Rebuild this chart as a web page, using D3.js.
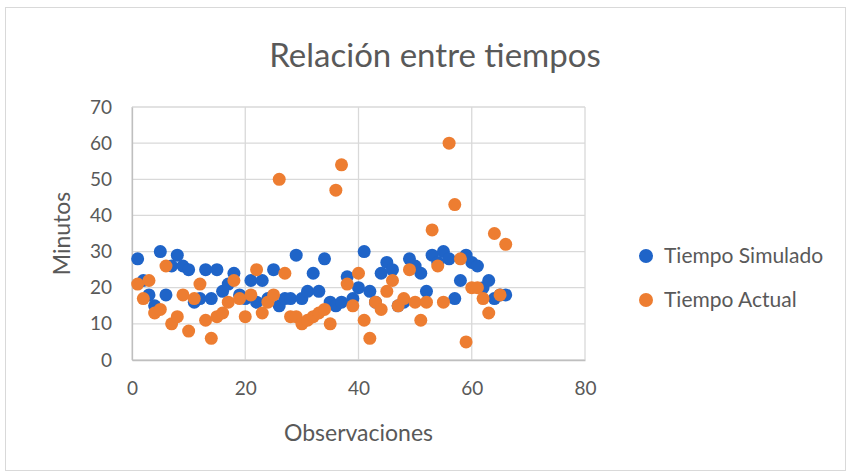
<!DOCTYPE html>
<html>
<head>
<meta charset="utf-8">
<script src="https://cdn.jsdelivr.net/npm/d3@7"></script>
<style>
  body { margin: 0; background: #fff; }
  text { font-family: Lato, "Open Sans", sans-serif; fill: #595959; }
</style>
</head>
<body>
<script>
var simulado = [28, 22, 18, 15, 30, 18, 26, 29, 26, 25, 16, 17, 25, 17, 25, 19, 21, 24, 18, 17,
                22, 16, 22, 17, 25, 15, 17, 17, 29, 17, 19, 24, 19, 28, 16, 15, 16, 23, 17, 20,
                30, 19, 16, 24, 27, 25, 15, 16, 28, 26, 24, 19, 29, 27, 30, 28, 17, 22, 29, 27,
                26, 20, 22, 17, 18, 18];
var actual = [21, 17, 22, 13, 14, 26, 10, 12, 18, 8, 17, 21, 11, 6, 12, 13, 16, 22, 17, 12,
              18, 25, 13, 16, 18, 50, 24, 12, 12, 10, 11, 12, 13, 14, 10, 47, 54, 21, 15, 24,
              11, 6, 16, 14, 19, 22, 15, 17, 25, 16, 11, 16, 36, 26, 16, 60, 43, 28, 5, 20,
              20, 17, 13, 35, 18, 32];
var seriesNames = ["Tiempo Simulado", "Tiempo Actual"];
var seriesColors = ["#1f64c8", "#ed7d31"];
var xTicks = [0, 20, 40, 60, 80];
var yTicks = [0, 10, 20, 30, 40, 50, 60, 70];

var W = 849, H = 473;
var margin = {top: 107, left: 132, right: 264, bottom: 113};
var width = W - margin.left - margin.right,
    height = H - margin.top - margin.bottom;

var svg = d3.select("body").append("svg")
    .attr("width", W)
    .attr("height", H);

// chart border
svg.append("rect")
    .attr("x", 5.5).attr("y", 7.5)
    .attr("width", 840).attr("height", 463)
    .attr("fill", "#fff")
    .attr("stroke", "#d9d9d9");

var g = svg.append("g")
    .attr("transform", "translate(" + margin.left + "," + margin.top + ")");

var x = d3.scaleLinear().domain([0, 80]).range([0, width]);
var y = d3.scaleLinear().domain([0, 70]).range([height, 0]);

// gridlines
g.append("g").selectAll("line").data(yTicks).join("line")
    .attr("x1", 0).attr("x2", width)
    .attr("y1", function(d) { return y(d); })
    .attr("y2", function(d) { return y(d); })
    .attr("stroke", "#d9d9d9").attr("stroke-width", 1.3);
g.append("g").selectAll("line").data(xTicks).join("line")
    .attr("y1", 0).attr("y2", height)
    .attr("x1", function(d) { return x(d); })
    .attr("x2", function(d) { return x(d); })
    .attr("stroke", "#d9d9d9").attr("stroke-width", 1.3);

// axes
var xAxis = g.append("g")
    .attr("transform", "translate(0," + height + ")")
    .call(d3.axisBottom(x).tickValues(xTicks).tickSize(0).tickPadding(22));
var yAxis = g.append("g")
    .call(d3.axisLeft(y).tickValues(yTicks).tickSize(0).tickPadding(20));
[xAxis, yAxis].forEach(function(a) {
  a.select(".domain").attr("stroke", "#bfbfbf").attr("stroke-width", 1.3);
  a.selectAll("text").style("font-size", "19px").attr("fill", "#595959")
    .style("font-family", "Lato, sans-serif");
});

// points
[simulado, actual].forEach(function(vals, s) {
  g.append("g").selectAll("circle").data(vals).join("circle")
      .attr("cx", function(d, i) { return x(i + 1); })
      .attr("cy", function(d) { return y(d); })
      .attr("r", 6.5)
      .attr("fill", seriesColors[s]);
});

// title
svg.append("text")
    .attr("x", 435).attr("y", 67)
    .attr("text-anchor", "middle")
    .style("font-size", "33px")
    .text("Relación entre tiempos");

// axis titles
svg.append("text")
    .attr("x", margin.left + width / 2).attr("y", 441)
    .attr("text-anchor", "middle")
    .style("font-size", "23px")
    .text("Observaciones");
svg.append("text")
    .attr("transform", "translate(70," + (margin.top + height / 2) + ") rotate(-90)")
    .attr("text-anchor", "middle")
    .style("font-size", "23px")
    .text("Minutos");

// legend
var legend = svg.append("g").selectAll("g").data(seriesNames).join("g")
    .attr("transform", function(d, i) { return "translate(646," + (256 + i * 44) + ")"; });
legend.append("circle")
    .attr("r", 7)
    .attr("fill", function(d, i) { return seriesColors[i]; });
legend.append("text")
    .attr("x", 18).attr("y", 7)
    .style("font-size", "21px")
    .text(function(d) { return d; });
</script>
</body>
</html>
